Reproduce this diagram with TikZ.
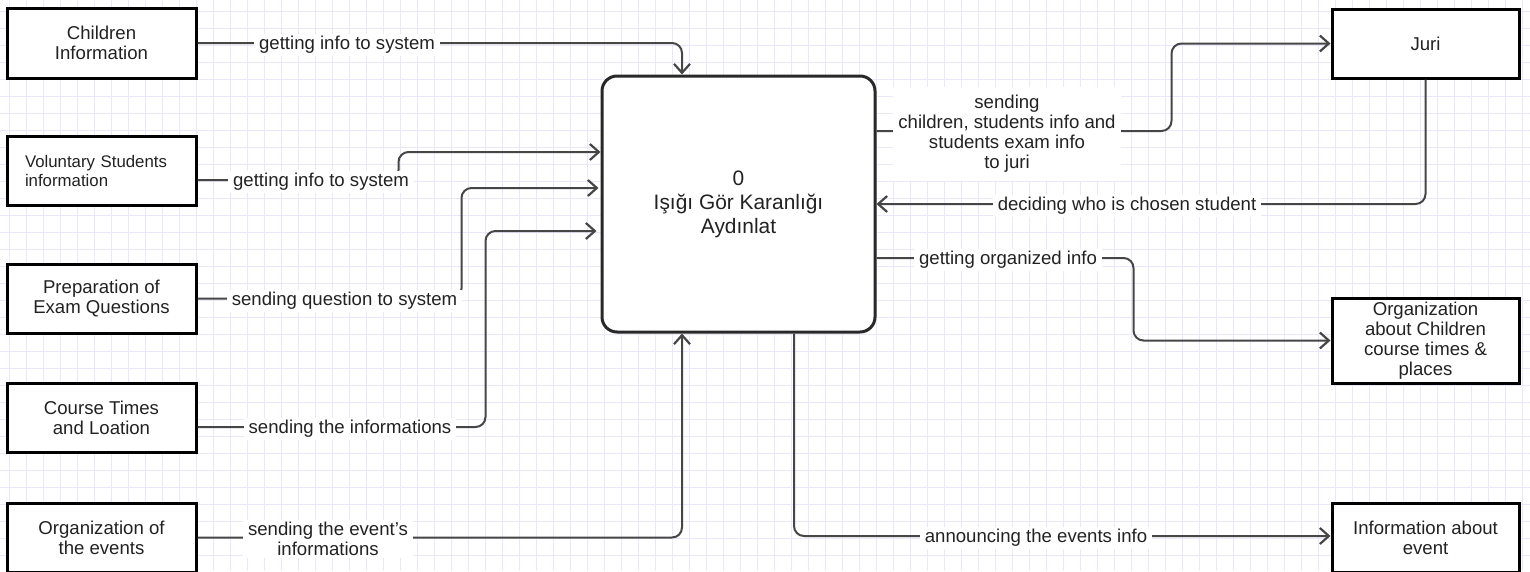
\documentclass[tikz,border=0pt]{standalone}
\usepackage{fontspec}
\setmainfont{Liberation Sans}
\usetikzlibrary{arrows.meta,calc}
\definecolor{txt}{RGB}{34,34,34}
\definecolor{edge}{RGB}{70,70,70}
\definecolor{gridc}{RGB}{232,232,250}
\newcommand{\fs}{\fontsize{18.6}{20}\selectfont}
\newcommand{\fsmall}{\fontsize{16.8}{19}\selectfont}
\newcommand{\fbig}{\fontsize{20.9}{24}\selectfont}
\tikzset{
  box/.style={draw=black, line width=3pt, fill=white, minimum width=189pt, minimum height=70pt,
    align=center, font=\fs, text=txt, inner sep=0pt},
  rbox/.style={box, minimum width=187pt},
  proc/.style={draw={rgb,255:red,40;green,40;blue,40}, line width=3pt, fill=white, rounded corners=15pt,
    minimum width=273pt, minimum height=256pt, align=center, font=\fbig, text=txt},
  flow/.style={draw=edge, line width=2pt, rounded corners=10pt,
    -{Straight Barb[length=9pt,width=16pt,line width=2.2pt]}},
  lbl/.style={fill=white, inner xsep=5pt, inner ysep=2pt, align=center, font=\fs, text=txt, yshift=-2pt},
}
\begin{document}
\begin{tikzpicture}[x=1pt,y=-1pt]
\useasboundingbox (0,0) rectangle (1530,571);
\fill[white] (0,0) rectangle (1530,571);
% grid
\foreach \k in {0,...,89} {\draw[gridc, line width=1pt] (9+17*\k,0) -- (9+17*\k,571);}
\foreach \k in {0,...,33} {\draw[gridc, line width=1pt] (0,11+17*\k) -- (1530,11+17*\k);}

% main process
\node[proc] (main) at (738.5,204) {0\\Işığı Gör Karanlığı\\Aydınlat};

% left boxes
\node[box] (child) at (101.5,43) {Children\\Information};
\node[box, minimum height=69pt, align=left, text width=153pt, font=\fsmall] (vol) at (101.5,170.5) {Voluntary Students\\information};
\node[box, minimum height=69pt] (prep) at (101.5,298.5) {Preparation of\\Exam Questions};
\node[box, minimum height=69pt] (course) at (101.5,417.5) {Course Times\\and Loation};
\node[box, minimum height=69pt] (orgev) at (101.5,537.5) {Organization of\\the events};

% right boxes
\node[rbox, minimum height=69pt] (juri) at (1425.5,43.5) {Juri};
\node[rbox, minimum height=85pt] (orgch) at (1425.5,340.5) {Organization\\about Children\\course times \&\\places};
\node[rbox, minimum height=69pt] (infoev) at (1425.5,537.5) {Information about\\event};

% connectors (left side)
\draw[flow] (child.east) -| ([xshift=-56.5pt]main.north);
\draw[flow] ([yshift=-9.5pt]vol.east) -| ([xshift=-202pt,yshift=52pt]main.west) -- ([yshift=52pt]main.west);
\draw[flow] (prep.east) -| ([xshift=-139pt,yshift=16pt]main.west) -- ([xshift=-2pt,yshift=16pt]main.west);
\draw[flow] ([yshift=-9.5pt]course.east) -| ([xshift=-115pt,yshift=-27pt]main.west) -- ([xshift=-4pt,yshift=-27pt]main.west);
\draw[flow] (orgev.east) -| ([xshift=-56.5pt]main.south);

% connectors (right side)
\draw[flow] ([yshift=73pt]main.east) -| ([xshift=-159pt]juri.west) -- (juri.west);
\draw[flow] (juri.south) |- (main.east);
\draw[flow] ([yshift=-54pt]main.east) -| ([xshift=-197pt]orgch.west) -- (orgch.west);
\draw[flow] ([xshift=55.5pt]main.south) |- ([yshift=1.5pt]infoev.west);

% labels
\node[lbl] (l1) at (347,43) {getting info to system};
\node[lbl] (l2) at (321,180) {getting info to system};
\node[lbl] (l3) at (344.5,299) {sending question to system};
\node[lbl] (l4) at (350,427) {sending the informations};
\node[lbl] (l5) at (328,537) {sending the event's\\informations};
\node[lbl, inner ysep=8pt] (l6) at (1007,132) {sending\\children, students info and\\students exam info\\to juri};
\node[lbl] (l7) at (1127,204) {deciding who is chosen student};
\node[lbl] (l8) at (1008,258) {getting organized info};
\node[lbl] (l9) at (1036,536) {announcing the events info};
\end{tikzpicture}
\end{document}
